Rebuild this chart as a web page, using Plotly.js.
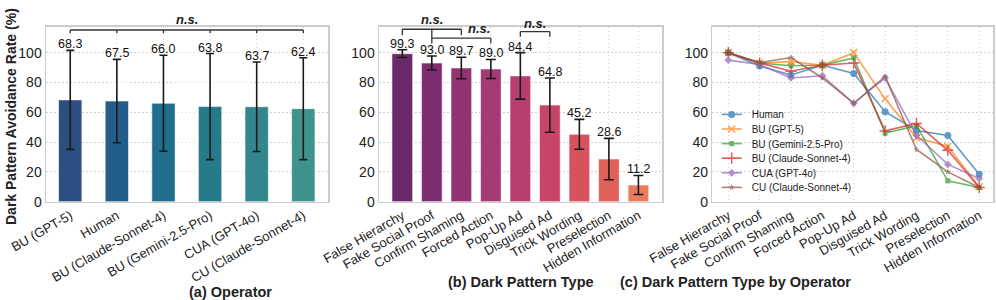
<!DOCTYPE html>
<html>
<head>
<meta charset="utf-8">
<script src="https://cdn.plot.ly/plotly-3.0.1.min.js"></script>
<style>html,body{margin:0;padding:0;background:#fff;}#chart{width:996px;height:300px;}</style>
</head>
<body>
<div id="chart"></div>
<script>
// ---------- data ----------
const operators = ['BU (GPT-5)', 'Human', 'BU (Claude-Sonnet-4)', 'BU (Gemini-2.5-Pro)', 'CUA (GPT-4o)', 'CU (Claude-Sonnet-4)'];
const operatorMeans = [68.3, 67.5, 66.0, 63.8, 63.7, 62.4];
const operatorErr = [33.2, 28.0, 32.2, 35.6, 30.0, 34.2];

const patternTypes = ['False Hierarchy', 'Fake Social Proof', 'Confirm Shaming', 'Forced Action', 'Pop-Up Ad', 'Disguised Ad', 'Trick Wording', 'Preselection', 'Hidden Information'];
const patternMeans = [99.3, 93.0, 89.7, 89.0, 84.4, 64.8, 45.2, 28.6, 11.2];
const patternErr = [2.6, 4.7, 7.2, 6.4, 15.6, 18.2, 10.0, 13.9, 6.4];

const seriesNames = ['Human', 'BU (GPT-5)', 'BU (Gemini-2.5-Pro)', 'BU (Claude-Sonnet-4)', 'CUA (GPT-4o)', 'CU (Claude-Sonnet-4)'];
const humanRates    = [100, 91.0, 85.0, 91.5, 86.0, 60.4, 47.8, 44.4, 18.4];
const gpt5Rates     = [100, 93.0, 94.0, 91.5, 100, 69.0, 43.0, 37.0, 10.0];
const geminiRates   = [100, 93.0, 91.2, 91.5, 96.5, 46.0, 51.0, 14.0, 9.5];
const claudeBuRates = [100, 93.0, 87.5, 91.5, 93.0, 47.5, 52.5, 34.5, 9.5];
const cuaRates      = [95.0, 92.0, 83.0, 84.5, 66.0, 83.0, 44.5, 25.0, 15.5];
const cuClaudeRates = [100, 93.3, 96.7, 83.0, 66.0, 84.0, 35.0, 20.0, 9.5];
const seriesValues = [humanRates, gpt5Rates, geminiRates, claudeBuRates, cuaRates, cuClaudeRates];

const yTicks = [0, 20, 40, 60, 80, 100];

// ---------- styles ----------
const opColors = ['#2b4f80', '#235e8a', '#206d8c', '#27798c', '#33868d', '#40928d'];
const ptColors = ['#6a2a69', '#7e2d6e', '#923372', '#a33a74', '#b83e6f', '#c94567', '#d8525e', '#e0615a', '#ea7b5f'];
const lineColors = ['#1f77b4', '#ff7f0e', '#2ca02c', '#d62728', '#9467bd', '#8c564b'];
const lineSymbols = ['circle', 'x-thin', 'square', 'cross-thin', 'diamond', 'star'];
const lineSizes = [7, 7, 5, 8, 6, 5];
const FONT = 'Liberation Sans, Arial, Helvetica, sans-serif';
const TXT = '#222';
const Y_MAX = 117.4;
const GRID_DASH = '1.5px,2.5px';
const xRanges = {x: [-0.52, 5.53], x2: [-0.79, 8.81], x3: [-0.51, 8.45]};

const traces = [];
traces.push({
  type: 'bar', x: operators, y: operatorMeans, xaxis: 'x', yaxis: 'y', width: 0.5,
  marker: {color: opColors, line: {color: 'rgba(255,255,255,0.55)', width: 1}},
  error_y: {type: 'data', array: operatorErr, visible: true, color: '#1a1a1a', thickness: 1.6, width: 4},
  showlegend: false, hoverinfo: 'skip'
});
traces.push({
  type: 'bar', x: patternTypes, y: patternMeans, xaxis: 'x2', yaxis: 'y2', width: 0.7,
  marker: {color: ptColors, line: {color: 'rgba(255,255,255,0.55)', width: 1}},
  error_y: {type: 'data', array: patternErr, visible: true, color: '#1a1a1a', thickness: 1.6, width: 5},
  showlegend: false, hoverinfo: 'skip'
});
seriesNames.forEach((name, i) => {
  traces.push({
    type: 'scatter', mode: 'lines+markers', name: name, x: patternTypes, y: seriesValues[i],
    xaxis: 'x3', yaxis: 'y3', opacity: 0.72,
    line: {color: lineColors[i], width: 1.6},
    marker: {symbol: lineSymbols[i], size: lineSizes[i], color: lineColors[i],
             line: {color: lineColors[i], width: (lineSymbols[i].indexOf('thin') >= 0) ? 1.5 : 0}},
    hoverinfo: 'skip'
  });
});

// ---------- axes ----------
const yDom = [0.3277, 0.911];
function xAx(domain, anchor, range) {
  return {domain: domain, anchor: anchor, type: 'category', range: range, tickangle: -30,
    tickfont: {size: 13, color: TXT, family: FONT}, showgrid: true, gridcolor: '#d0d0d0', griddash: GRID_DASH, gridwidth: 1,
    showline: true, mirror: true, linecolor: '#cccccc', linewidth: 1.5, ticks: '', zeroline: false, automargin: false,
    fixedrange: true};
}
function yAx(anchor, range) {
  return {domain: yDom, anchor: anchor, range: range, tickvals: yTicks, ticktext: yTicks.map(String),
    tickfont: {size: 14, color: TXT, family: FONT}, showgrid: true, gridcolor: '#d0d0d0', griddash: GRID_DASH, gridwidth: 1,
    showline: true, mirror: true, linecolor: '#cccccc', linewidth: 1.5, ticks: '', zeroline: false, automargin: false,
    fixedrange: true};
}

// ---------- annotations ----------
const annotations = [];
operatorMeans.forEach((m, i) => annotations.push({xref: 'x', yref: 'y', x: i, y: m + operatorErr[i], text: m.toFixed(1),
  showarrow: false, yanchor: 'bottom', yshift: -3, font: {size: 12.5, color: '#111', family: FONT}}));
patternMeans.forEach((m, i) => annotations.push({xref: 'x2', yref: 'y2', x: i, y: m + patternErr[i], text: m.toFixed(1),
  showarrow: false, yanchor: 'bottom', yshift: -3, font: {size: 12.5, color: '#111', family: FONT}}));

// significance brackets
const shapes = [];
const BR = '#333';
function seg(xr, yr, x0, y0, x1, y1) {
  shapes.push({type: 'line', xref: xr, yref: yr, x0: x0, y0: y0, x1: x1, y1: y1, line: {color: BR, width: 1.3}, layer: 'above'});
}
// n.s. labels sit above the plot area: place them with axis-domain references so they are never hidden
function ns(xr, yr, x, y) {
  const r = xRanges[xr];
  annotations.push({xref: xr + ' domain', yref: yr + ' domain', x: (x - r[0]) / (r[1] - r[0]), y: y / Y_MAX,
    text: 'n.s.', showarrow: false, xanchor: 'center', yanchor: 'middle',
    font: {size: 13, color: '#222', family: FONT, style: 'italic', weight: 'bold'}});
}
// (a) all operators
seg('x', 'y', 0, 115.2, 5, 115.2);
for (let i = 0; i < operators.length; i++) seg('x', 'y', i, 115.2, i, 113.0);
ns('x', 'y', 2.5, 121.9);
// (b)
seg('x2', 'y2', 0, 115.7, 2, 115.7);
seg('x2', 'y2', 0, 115.7, 0, 111.9);
seg('x2', 'y2', 2, 115.7, 2, 111.9);
seg('x2', 'y2', 1, 115.7, 1, 106.3);
ns('x2', 'y2', 1, 122.4);
seg('x2', 'y2', 1, 109.7, 3, 109.7);
seg('x2', 'y2', 3, 109.7, 3, 106.3);
ns('x2', 'y2', 2.6, 115.9);
seg('x2', 'y2', 4, 114.1, 5, 114.1);
seg('x2', 'y2', 4, 114.1, 4, 110.7);
seg('x2', 'y2', 5, 114.1, 5, 110.7);
ns('x2', 'y2', 4.5, 119.7);

// titles
const tFont = {size: 14.5, color: TXT, family: FONT, weight: 'bold'};
annotations.push({xref: 'paper', yref: 'paper', x: 187 / 996, y: (300 - 291.7) / 300, text: '(a) Operator', showarrow: false, yanchor: 'middle', font: tFont});
annotations.push({xref: 'paper', yref: 'paper', x: 520.5 / 996, y: (300 - 282.3) / 300, text: '(b) Dark Pattern Type', showarrow: false, yanchor: 'middle', font: tFont});
annotations.push({xref: 'paper', yref: 'paper', x: 853 / 996, y: (300 - 282.3) / 300, text: '(c) Dark Pattern Type by Operator', showarrow: false, yanchor: 'middle', font: tFont});
annotations.push({xref: 'paper', yref: 'paper', x: 11 / 996, y: (300 - 117) / 300, text: 'Dark Pattern Avoidance Rate (%)', textangle: -90,
  showarrow: false, xanchor: 'center', yanchor: 'middle', font: {size: 14, color: TXT, family: FONT, weight: 'bold'}});

const layout = {
  width: 996, height: 300, margin: {l: 0, r: 0, t: 0, b: 0}, paper_bgcolor: '#fff', plot_bgcolor: '#fff',
  font: {family: FONT, color: TXT}, bargap: 0.3,
  xaxis: xAx([46 / 996, 328 / 996], 'y', xRanges.x),
  yaxis: yAx('x', [0, Y_MAX]),
  xaxis2: xAx([379 / 996, 662.3 / 996], 'y2', xRanges.x2),
  yaxis2: yAx('x2', [0, Y_MAX]),
  xaxis3: xAx([712.3 / 996, 993.3 / 996], 'y3', xRanges.x3),
  yaxis3: yAx('x3', [0, Y_MAX]),
  showlegend: true,
  legend: {x: 711.7 / 996, xanchor: 'left', y: 0.667, yanchor: 'top', bgcolor: 'rgba(0,0,0,0)', borderwidth: 0,
    font: {size: 10, color: TXT, family: FONT}, itemclick: false, itemdoubleclick: false},
  shapes: shapes, annotations: annotations
};

Plotly.newPlot('chart', traces, layout, {staticPlot: true, displayModeBar: false}).then(gd => {
  // tighten legend rows to match reference spacing
  const items = gd.querySelectorAll('.legend .traces');
  let first = null;
  items.forEach((g, i) => {
    const t = g.getAttribute('transform') || '';
    const m = t.match(/translate\(([-\d.]+)[ ,]+([-\d.]+)\)/);
    if (!m) return;
    if (first === null) first = parseFloat(m[2]);
    g.setAttribute('transform', 'translate(' + m[1] + ',' + (first + i * 14.6) + ')');
  });
  gd.querySelectorAll('.legend .legendlines path').forEach(p => p.setAttribute('d', 'M10,0h20'));
});
</script>
</body>
</html>
